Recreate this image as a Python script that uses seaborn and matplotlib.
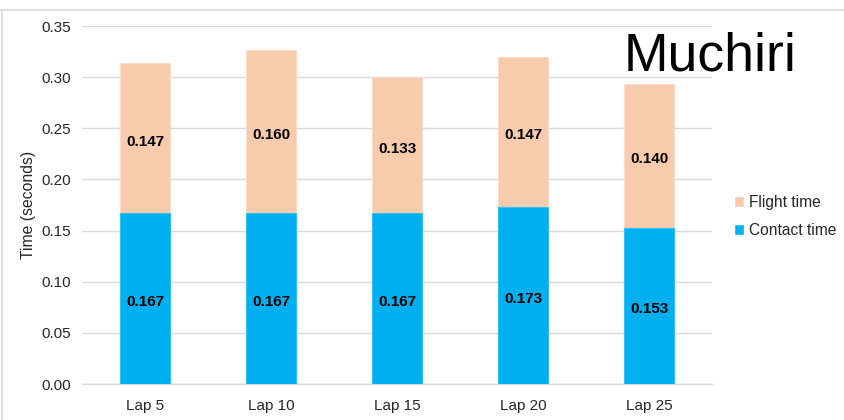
import matplotlib
matplotlib.use("Agg")
import matplotlib.pyplot as plt
from matplotlib.lines import Line2D
from matplotlib.patches import Patch
import seaborn as sns
import pandas as pd

laps = ["Lap 5", "Lap 10", "Lap 15", "Lap 20", "Lap 25"]
contact_time = [0.167, 0.167, 0.167, 0.173, 0.153]
flight_time = [0.147, 0.160, 0.133, 0.147, 0.140]

blue = "#00B0F0"
peach = "#F8CBAD"
grid_c = "#D9D9D9"

sns.set_theme(style="white")
plt.rcParams["font.family"] = ["Liberation Sans", "DejaVu Sans"]

df = pd.DataFrame({"lap": laps, "contact": contact_time, "flight": flight_time})
df["total"] = df["contact"] + df["flight"]

fig = plt.figure(figsize=(8.44, 4.20), dpi=100)
ax = fig.add_axes([0.0972, 0.0857, 0.7464, 0.8523])

# stacked bars: full height in peach, contact portion drawn over it in blue
sns.barplot(data=df, x="lap", y="total", color=peach, width=0.40, ax=ax,
            edgecolor="#FBDCC8", linewidth=0.8, saturation=1, zorder=2)
sns.barplot(data=df, x="lap", y="contact", color=blue, width=0.40, ax=ax,
            edgecolor="#33C0F3", linewidth=0.8, saturation=1, zorder=3)

for i, (c, f) in enumerate(zip(contact_time, flight_time)):
    for y, v in ((c / 2, c), (c + f / 2, f)):
        ax.annotate(f"{v:.3f}", (i, y), xytext=(0, -2.5), textcoords="offset points",
                    ha="center", va="center", fontsize=11, fontweight="bold",
                    color="black", zorder=4)

ax.set_ylim(0, 0.35)
ax.set_xlim(-0.5, 4.5)
ax.set_yticks([0.0, 0.05, 0.10, 0.15, 0.20, 0.25, 0.30, 0.35])
ax.set_yticklabels([f"{v:.2f}" for v in ax.get_yticks()])
ax.yaxis.grid(True, color=grid_c, linewidth=1.0, zorder=0)
ax.set_axisbelow(True)
for s in ["top", "right", "left"]:
    ax.spines[s].set_visible(False)
ax.spines["bottom"].set_color(grid_c)
ax.spines["bottom"].set_linewidth(1.0)
ax.tick_params(axis="both", length=0, labelsize=11, colors="#262626")
ax.tick_params(axis="y", pad=8)
ax.tick_params(axis="x", pad=11)
ax.set_xlabel("")
ax.set_ylabel("Time (seconds)", fontsize=11.3, color="#262626", labelpad=4)

handles = [Patch(facecolor=peach, label="Flight time"),
           Patch(facecolor=blue, label="Contact time")]
fig.legend(handles=handles, loc="center left", bbox_to_anchor=(0.862, 0.4845),
           frameon=False, fontsize=11.2, handlelength=0.65, handleheight=0.65,
           handletextpad=0.3, labelspacing=0.85, borderaxespad=0)

fig.text(0.739, 0.831, "Muchiri", fontsize=38.5, color="black", ha="left",
         va="baseline")

# outer chart border (top and left edges)
fig.add_artist(Line2D([0, 1], [1 - 9.5 / 420, 1 - 9.5 / 420], transform=fig.transFigure,
                      color=grid_c, linewidth=1.2))
fig.add_artist(Line2D([1.5 / 844, 1.5 / 844], [0, 1 - 9.5 / 420], transform=fig.transFigure,
                      color=grid_c, linewidth=1.2))

fig.savefig("out.png", dpi=100, facecolor="white")
